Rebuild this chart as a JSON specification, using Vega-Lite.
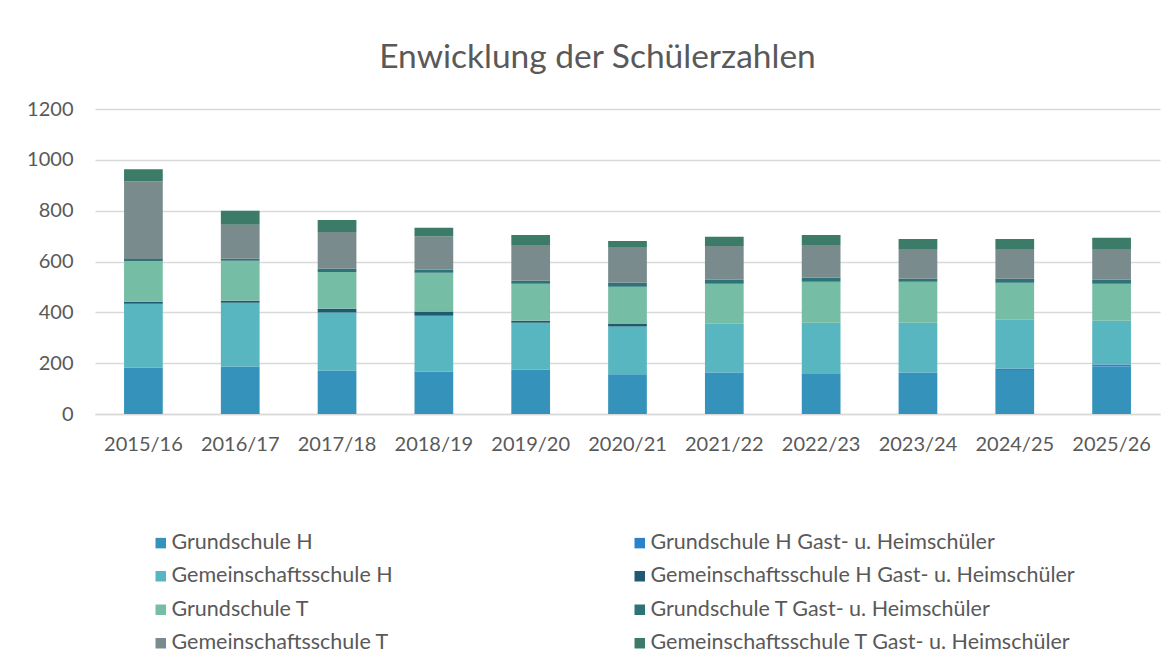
{
  "$schema": "https://vega.github.io/schema/vega-lite/v6.json",
  "autosize": {"type": "none"},
  "width": 1065,
  "height": 305,
  "padding": {"left": 95, "top": 109, "right": 15, "bottom": 243},
  "background": "white",
  "title": {
    "text": "Enwicklung der Schülerzahlen",
    "font": "Lato",
    "fontSize": 33.5,
    "fontWeight": "normal",
    "color": "#595959",
    "anchor": "middle",
    "dx": -30,
    "offset": 24
  },
  "config": {
    "view": {"stroke": null},
    "font": "Lato"
  },
  "data": {
    "values": [
      {"jahr": "2015/16", "serie": "Grundschule H", "wert": 183, "o": 0},
      {"jahr": "2015/16", "serie": "Grundschule H Gast- u. Heimschüler", "wert": 0, "o": 1},
      {"jahr": "2015/16", "serie": "Gemeinschaftsschule H", "wert": 251, "o": 2},
      {"jahr": "2015/16", "serie": "Gemeinschaftsschule H Gast- u. Heimschüler", "wert": 8, "o": 3},
      {"jahr": "2015/16", "serie": "Grundschule T", "wert": 160, "o": 4},
      {"jahr": "2015/16", "serie": "Grundschule T Gast- u. Heimschüler", "wert": 8, "o": 5},
      {"jahr": "2015/16", "serie": "Gemeinschaftsschule T", "wert": 306, "o": 6},
      {"jahr": "2015/16", "serie": "Gemeinschaftsschule T Gast- u. Heimschüler", "wert": 47, "o": 7},

      {"jahr": "2016/17", "serie": "Grundschule H", "wert": 187, "o": 0},
      {"jahr": "2016/17", "serie": "Grundschule H Gast- u. Heimschüler", "wert": 0, "o": 1},
      {"jahr": "2016/17", "serie": "Gemeinschaftsschule H", "wert": 251, "o": 2},
      {"jahr": "2016/17", "serie": "Gemeinschaftsschule H Gast- u. Heimschüler", "wert": 8, "o": 3},
      {"jahr": "2016/17", "serie": "Grundschule T", "wert": 157, "o": 4},
      {"jahr": "2016/17", "serie": "Grundschule T Gast- u. Heimschüler", "wert": 8, "o": 5},
      {"jahr": "2016/17", "serie": "Gemeinschaftsschule T", "wert": 134, "o": 6},
      {"jahr": "2016/17", "serie": "Gemeinschaftsschule T Gast- u. Heimschüler", "wert": 55, "o": 7},

      {"jahr": "2017/18", "serie": "Grundschule H", "wert": 171, "o": 0},
      {"jahr": "2017/18", "serie": "Grundschule H Gast- u. Heimschüler", "wert": 0, "o": 1},
      {"jahr": "2017/18", "serie": "Gemeinschaftsschule H", "wert": 228, "o": 2},
      {"jahr": "2017/18", "serie": "Gemeinschaftsschule H Gast- u. Heimschüler", "wert": 15, "o": 3},
      {"jahr": "2017/18", "serie": "Grundschule T", "wert": 145, "o": 4},
      {"jahr": "2017/18", "serie": "Grundschule T Gast- u. Heimschüler", "wert": 12, "o": 5},
      {"jahr": "2017/18", "serie": "Gemeinschaftsschule T", "wert": 145, "o": 6},
      {"jahr": "2017/18", "serie": "Gemeinschaftsschule T Gast- u. Heimschüler", "wert": 47, "o": 7},

      {"jahr": "2018/19", "serie": "Grundschule H", "wert": 165, "o": 0},
      {"jahr": "2018/19", "serie": "Grundschule H Gast- u. Heimschüler", "wert": 2, "o": 1},
      {"jahr": "2018/19", "serie": "Gemeinschaftsschule H", "wert": 220, "o": 2},
      {"jahr": "2018/19", "serie": "Gemeinschaftsschule H Gast- u. Heimschüler", "wert": 16, "o": 3},
      {"jahr": "2018/19", "serie": "Grundschule T", "wert": 153, "o": 4},
      {"jahr": "2018/19", "serie": "Grundschule T Gast- u. Heimschüler", "wert": 12, "o": 5},
      {"jahr": "2018/19", "serie": "Gemeinschaftsschule T", "wert": 130, "o": 6},
      {"jahr": "2018/19", "serie": "Gemeinschaftsschule T Gast- u. Heimschüler", "wert": 35, "o": 7},

      {"jahr": "2019/20", "serie": "Grundschule H", "wert": 175, "o": 0},
      {"jahr": "2019/20", "serie": "Grundschule H Gast- u. Heimschüler", "wert": 0, "o": 1},
      {"jahr": "2019/20", "serie": "Gemeinschaftsschule H", "wert": 184, "o": 2},
      {"jahr": "2019/20", "serie": "Gemeinschaftsschule H Gast- u. Heimschüler", "wert": 8, "o": 3},
      {"jahr": "2019/20", "serie": "Grundschule T", "wert": 145, "o": 4},
      {"jahr": "2019/20", "serie": "Grundschule T Gast- u. Heimschüler", "wert": 12, "o": 5},
      {"jahr": "2019/20", "serie": "Gemeinschaftsschule T", "wert": 141, "o": 6},
      {"jahr": "2019/20", "serie": "Gemeinschaftsschule T Gast- u. Heimschüler", "wert": 39, "o": 7},

      {"jahr": "2020/21", "serie": "Grundschule H", "wert": 156, "o": 0},
      {"jahr": "2020/21", "serie": "Grundschule H Gast- u. Heimschüler", "wert": 0, "o": 1},
      {"jahr": "2020/21", "serie": "Gemeinschaftsschule H", "wert": 188, "o": 2},
      {"jahr": "2020/21", "serie": "Gemeinschaftsschule H Gast- u. Heimschüler", "wert": 12, "o": 3},
      {"jahr": "2020/21", "serie": "Grundschule T", "wert": 145, "o": 4},
      {"jahr": "2020/21", "serie": "Grundschule T Gast- u. Heimschüler", "wert": 16, "o": 5},
      {"jahr": "2020/21", "serie": "Gemeinschaftsschule T", "wert": 137, "o": 6},
      {"jahr": "2020/21", "serie": "Gemeinschaftsschule T Gast- u. Heimschüler", "wert": 27, "o": 7},

      {"jahr": "2021/22", "serie": "Grundschule H", "wert": 161, "o": 0},
      {"jahr": "2021/22", "serie": "Grundschule H Gast- u. Heimschüler", "wert": 2, "o": 1},
      {"jahr": "2021/22", "serie": "Gemeinschaftsschule H", "wert": 192, "o": 2},
      {"jahr": "2021/22", "serie": "Gemeinschaftsschule H Gast- u. Heimschüler", "wert": 0, "o": 3},
      {"jahr": "2021/22", "serie": "Grundschule T", "wert": 157, "o": 4},
      {"jahr": "2021/22", "serie": "Grundschule T Gast- u. Heimschüler", "wert": 16, "o": 5},
      {"jahr": "2021/22", "serie": "Gemeinschaftsschule T", "wert": 133, "o": 6},
      {"jahr": "2021/22", "serie": "Gemeinschaftsschule T Gast- u. Heimschüler", "wert": 36, "o": 7},

      {"jahr": "2022/23", "serie": "Grundschule H", "wert": 160, "o": 0},
      {"jahr": "2022/23", "serie": "Grundschule H Gast- u. Heimschüler", "wert": 0, "o": 1},
      {"jahr": "2022/23", "serie": "Gemeinschaftsschule H", "wert": 199, "o": 2},
      {"jahr": "2022/23", "serie": "Gemeinschaftsschule H Gast- u. Heimschüler", "wert": 0, "o": 3},
      {"jahr": "2022/23", "serie": "Grundschule T", "wert": 161, "o": 4},
      {"jahr": "2022/23", "serie": "Grundschule T Gast- u. Heimschüler", "wert": 16, "o": 5},
      {"jahr": "2022/23", "serie": "Gemeinschaftsschule T", "wert": 129, "o": 6},
      {"jahr": "2022/23", "serie": "Gemeinschaftsschule T Gast- u. Heimschüler", "wert": 39, "o": 7},

      {"jahr": "2023/24", "serie": "Grundschule H", "wert": 161, "o": 0},
      {"jahr": "2023/24", "serie": "Grundschule H Gast- u. Heimschüler", "wert": 2, "o": 1},
      {"jahr": "2023/24", "serie": "Gemeinschaftsschule H", "wert": 196, "o": 2},
      {"jahr": "2023/24", "serie": "Gemeinschaftsschule H Gast- u. Heimschüler", "wert": 0, "o": 3},
      {"jahr": "2023/24", "serie": "Grundschule T", "wert": 161, "o": 4},
      {"jahr": "2023/24", "serie": "Grundschule T Gast- u. Heimschüler", "wert": 12, "o": 5},
      {"jahr": "2023/24", "serie": "Gemeinschaftsschule T", "wert": 114, "o": 6},
      {"jahr": "2023/24", "serie": "Gemeinschaftsschule T Gast- u. Heimschüler", "wert": 43, "o": 7},

      {"jahr": "2024/25", "serie": "Grundschule H", "wert": 173, "o": 0},
      {"jahr": "2024/25", "serie": "Grundschule H Gast- u. Heimschüler", "wert": 6, "o": 1},
      {"jahr": "2024/25", "serie": "Gemeinschaftsschule H", "wert": 192, "o": 2},
      {"jahr": "2024/25", "serie": "Gemeinschaftsschule H Gast- u. Heimschüler", "wert": 0, "o": 3},
      {"jahr": "2024/25", "serie": "Grundschule T", "wert": 145, "o": 4},
      {"jahr": "2024/25", "serie": "Grundschule T Gast- u. Heimschüler", "wert": 16, "o": 5},
      {"jahr": "2024/25", "serie": "Gemeinschaftsschule T", "wert": 114, "o": 6},
      {"jahr": "2024/25", "serie": "Gemeinschaftsschule T Gast- u. Heimschüler", "wert": 43, "o": 7},

      {"jahr": "2025/26", "serie": "Grundschule H", "wert": 187, "o": 0},
      {"jahr": "2025/26", "serie": "Grundschule H Gast- u. Heimschüler", "wert": 8, "o": 1},
      {"jahr": "2025/26", "serie": "Gemeinschaftsschule H", "wert": 172, "o": 2},
      {"jahr": "2025/26", "serie": "Gemeinschaftsschule H Gast- u. Heimschüler", "wert": 0, "o": 3},
      {"jahr": "2025/26", "serie": "Grundschule T", "wert": 145, "o": 4},
      {"jahr": "2025/26", "serie": "Grundschule T Gast- u. Heimschüler", "wert": 16, "o": 5},
      {"jahr": "2025/26", "serie": "Gemeinschaftsschule T", "wert": 118, "o": 6},
      {"jahr": "2025/26", "serie": "Gemeinschaftsschule T Gast- u. Heimschüler", "wert": 47, "o": 7}
    ]
  },
  "mark": {"type": "bar"},
  "encoding": {
    "x": {
      "field": "jahr",
      "type": "nominal",
      "sort": null,
      "scale": {"paddingInner": 0.6, "paddingOuter": 0.3},
      "axis": {
        "title": null,
        "labelAngle": 0,
        "labelFontSize": 20,
        "labelColor": "#595959",
        "labelPadding": 20,
        "ticks": false,
        "domainColor": "#d9d9d9",
        "domainWidth": 1.5
      }
    },
    "y": {
      "field": "wert",
      "type": "quantitative",
      "stack": "zero",
      "scale": {"domain": [0, 1200]},
      "axis": {
        "title": null,
        "values": [0, 200, 400, 600, 800, 1000, 1200],
        "format": "d",
        "labelFontSize": 20,
        "labelColor": "#595959",
        "labelPadding": 22,
        "ticks": false,
        "domain": false,
        "gridColor": "#d9d9d9",
        "gridWidth": 1.5
      }
    },
    "order": {"field": "o", "type": "quantitative", "sort": "ascending"},
    "color": {
      "field": "serie",
      "type": "nominal",
      "scale": {
        "domain": [
          "Grundschule H",
          "Grundschule H Gast- u. Heimschüler",
          "Gemeinschaftsschule H",
          "Gemeinschaftsschule H Gast- u. Heimschüler",
          "Grundschule T",
          "Grundschule T Gast- u. Heimschüler",
          "Gemeinschaftsschule T",
          "Gemeinschaftsschule T Gast- u. Heimschüler"
        ],
        "range": ["#3592ba", "#2a82c8", "#58b6c0", "#1f5a70", "#76bda6", "#2e7378", "#7a8b8d", "#3b7b67"]
      },
      "legend": {
        "title": null,
        "orient": "none",
        "legendX": 55,
        "legendY": 423,
        "columns": 2,
        "columnPadding": 236,
        "rowPadding": 10.5,
        "values": [
          "Grundschule H",
          "Gemeinschaftsschule H",
          "Grundschule T",
          "Gemeinschaftsschule T",
          "Grundschule H Gast- u. Heimschüler",
          "Gemeinschaftsschule H Gast- u. Heimschüler",
          "Grundschule T Gast- u. Heimschüler",
          "Gemeinschaftsschule T Gast- u. Heimschüler"
        ],
        "symbolType": "square",
        "symbolSize": 110,
        "symbolStrokeWidth": 0,
        "labelFontSize": 21.5,
        "labelColor": "#595959",
        "labelOffset": 0,
        "labelLimit": 600
      }
    }
  }
}
